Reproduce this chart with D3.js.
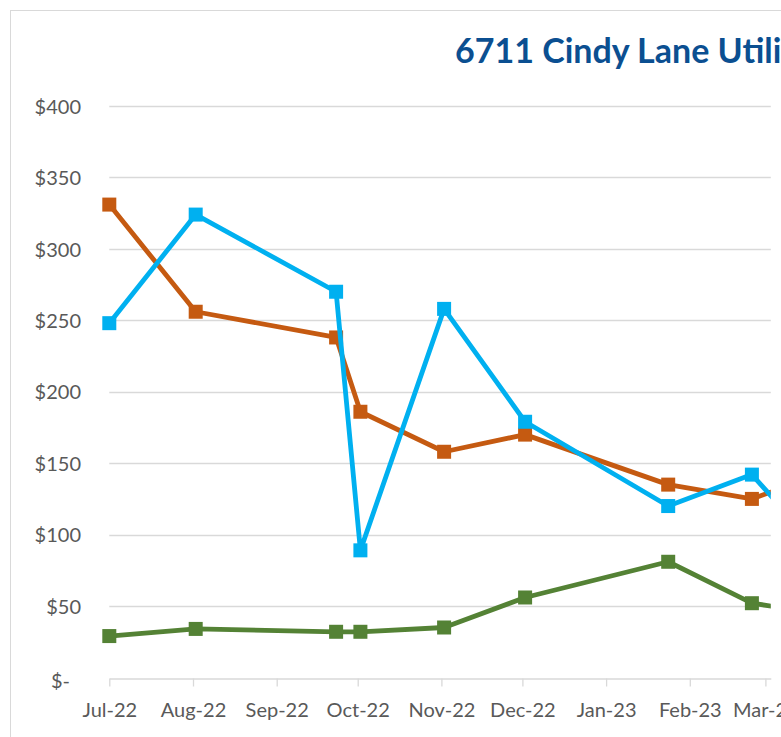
<!DOCTYPE html>
<html>
<head>
<meta charset="utf-8">
<script src="https://cdn.jsdelivr.net/npm/d3@7"></script>
<style>
  html, body { margin: 0; padding: 0; background: #fff; overflow: hidden; }
  svg { display: block; }
</style>
</head>
<body>
<div id="chart"></div>
<script>
// Bill dates and amounts (last date is just past the visible edge)
const billDates = ['2022-07-01', '2022-08-02', '2022-09-23', '2022-10-02', '2022-11-02',
                   '2022-12-02', '2023-01-24', '2023-02-24', '2023-03-24'];
const electric = [331, 256, 238, 186, 158, 170, 135, 125, 144];
const gas      = [248, 324, 270, 89, 258, 179, 120, 142, 83];
const water    = [29, 34, 32, 32, 35, 56, 81, 52, 44];
const yTicks = [0, 50, 100, 150, 200, 250, 300, 350, 400];
const titleText = '6711 Cindy Lane Utilities';

const series = [
    { name: 'Electric', values: electric, color: '#C55A11' },
    { name: 'Gas', values: gas, color: '#00B0F0' },
    { name: 'Water', values: water, color: '#548235' }
];

const width = 781;
const height = 737;
const parse = d3.utcParse('%Y-%m-%d');
const dates = billDates.map(parse);

const svg = d3.select('#chart')
    .append('svg')
    .attr('width', width)
    .attr('height', height);

// chart area border (the chart continues past the right edge)
svg.append('rect')
    .attr('x', 10.5).attr('y', 10.5)
    .attr('width', width + 20).attr('height', height + 20)
    .attr('fill', 'none')
    .attr('stroke', '#D9D9D9');

// Scales
const x = d3.scaleUtc()
    .domain([parse('2022-07-01'), parse('2023-03-03')])
    .range([109.3, 770.8]);

const y = d3.scaleLinear()
    .domain([0, 400])
    .range([677.5, 106]);

const fontFamily = 'Lato, "Open Sans", sans-serif';

// Gridlines
svg.append('g')
    .selectAll('line')
    .data(yTicks.filter(d => d > 0))
    .enter()
    .append('line')
    .attr('x1', x.range()[0])
    .attr('x2', x.range()[1])
    .attr('y1', d => Math.round(y(d)) + 0.5)
    .attr('y2', d => Math.round(y(d)) + 0.5)
    .attr('stroke', '#D9D9D9')
    .attr('stroke-width', 1.3);

// Y axis labels
const yAxis = d3.axisLeft(y)
    .tickValues(yTicks)
    .tickSize(0)
    .tickPadding(0)
    .tickFormat(d => d === 0 ? '$-' : '$' + d);

svg.append('g')
    .attr('transform', 'translate(81,0)')
    .call(yAxis)
    .call(g => g.select('.domain').remove())
    .call(g => g.selectAll('text')
        .attr('font-family', fontFamily)
        .attr('font-size', 20)
        .attr('fill', '#595959')
        .attr('dy', '0.36em'));
svg.selectAll('.tick').filter(d => d === 0).select('text').attr('x', -11).attr('dy', '0.5em');

// X axis
const xAxis = d3.axisBottom(x)
    .ticks(d3.utcMonth.every(1))
    .tickSize(8)
    .tickSizeOuter(0)
    .tickPadding(16)
    .tickFormat(d3.utcFormat('%b-%y'));

svg.append('g')
    .attr('transform', `translate(0,${Math.round(y(0)) + 0.5})`)
    .call(xAxis)
    .call(g => g.select('.domain').attr('stroke', '#D9D9D9').attr('stroke-width', 1.3))
    .call(g => g.selectAll('.tick line').attr('stroke', '#D9D9D9').attr('stroke-width', 1.3))
    .call(g => g.selectAll('text')
        .attr('font-family', fontFamily)
        .attr('font-size', 20)
        .attr('fill', '#595959'));

// Plot clip
svg.append('clipPath')
    .attr('id', 'plot-clip')
    .append('rect')
    .attr('x', 90).attr('y', 80)
    .attr('width', x.range()[1] - 90)
    .attr('height', 620);

const plot = svg.append('g').attr('clip-path', 'url(#plot-clip)');

const line = d3.line()
    .x((d, i) => x(dates[i]))
    .y(d => y(d));

const markerSize = 14;

series.forEach(s => {
    const g = plot.append('g').attr('class', 'series');
    g.append('path')
        .datum(s.values)
        .attr('d', line)
        .attr('fill', 'none')
        .attr('stroke', s.color)
        .attr('stroke-width', 4.8)
        .attr('stroke-linejoin', 'round');
    g.selectAll('rect')
        .data(s.values)
        .enter()
        .append('rect')
        .attr('x', (d, i) => x(dates[i]) - markerSize / 2)
        .attr('y', d => y(d) - markerSize / 2)
        .attr('width', markerSize)
        .attr('height', markerSize)
        .attr('fill', s.color);
});

// Title (centred over the full chart, which runs past the right edge)
svg.append('text')
    .attr('x', 455)
    .attr('y', 63)
    .attr('font-family', fontFamily)
    .attr('font-weight', 700)
    .attr('font-size', 34)
    .attr('fill', '#0B4F91')
    .text(titleText);
</script>
</body>
</html>
